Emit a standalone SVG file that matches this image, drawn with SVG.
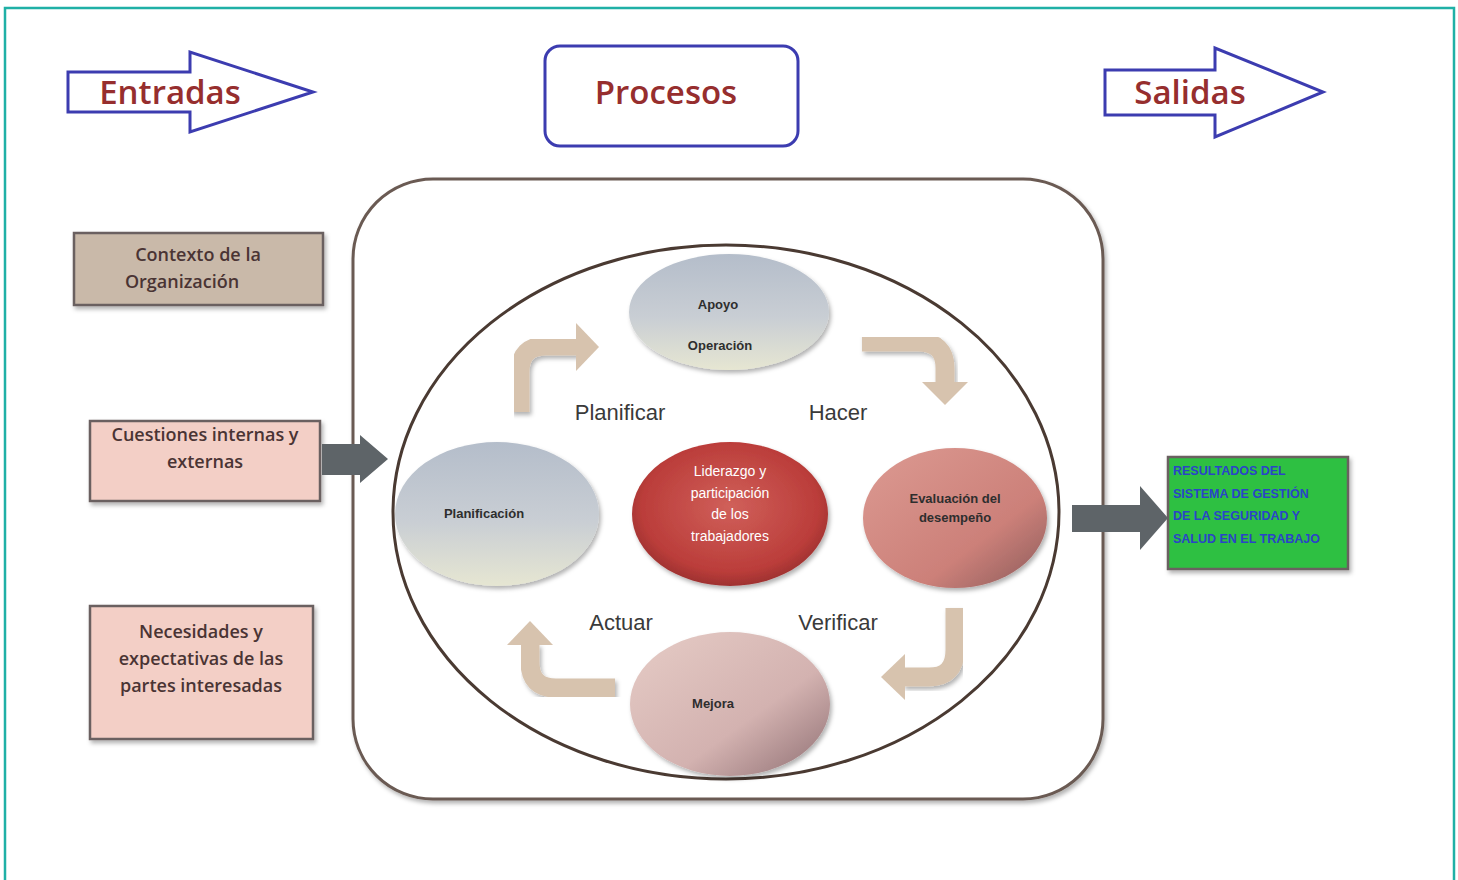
<svg xmlns="http://www.w3.org/2000/svg" width="1458" height="880" viewBox="0 0 1458 880">
  <defs>
    <linearGradient id="gBlue" x1="0" y1="0" x2="0" y2="1">
      <stop offset="0" stop-color="#b4bdca"/>
      <stop offset="0.55" stop-color="#c9ced4"/>
      <stop offset="1" stop-color="#e6e6d2"/>
    </linearGradient>
    <radialGradient id="gRed" cx="0.5" cy="0.45" r="0.6">
      <stop offset="0" stop-color="#d0605a"/>
      <stop offset="0.75" stop-color="#bb3d3a"/>
      <stop offset="1" stop-color="#902c2c"/>
    </radialGradient>
    <linearGradient id="gEval" x1="0" y1="0" x2="1" y2="1">
      <stop offset="0" stop-color="#dc9a92"/>
      <stop offset="0.65" stop-color="#cc8079"/>
      <stop offset="1" stop-color="#8a5a5a"/>
    </linearGradient>
    <linearGradient id="gMejora" x1="0" y1="0" x2="1" y2="1">
      <stop offset="0" stop-color="#e6ccc6"/>
      <stop offset="0.6" stop-color="#d3b2b0"/>
      <stop offset="1" stop-color="#8e6e72"/>
    </linearGradient>
    <filter id="shadow" x="-10%" y="-10%" width="125%" height="130%">
      <feDropShadow dx="2" dy="3" stdDeviation="2" flood-color="#000" flood-opacity="0.3"/>
    </filter>
    <style>
      .head { font-family: "Open Sans", "Liberation Sans", sans-serif; font-weight: 600; font-size: 33px; fill: #962e2e; text-anchor: middle; }
      .hdrShape { fill: #ffffff; stroke: #3c3cb0; stroke-width: 3; }
      .box { stroke: #6a6060; stroke-width: 2.5; filter: url(#shadow); }
      .boxTxt { font-family: "Open Sans", "Liberation Sans", sans-serif; font-size: 18px; font-weight: 600; fill: #4a3434; text-anchor: middle; }
      .cyc { font-family: "Liberation Sans", "DejaVu Sans", sans-serif; font-size: 22px; fill: #3a3a3a; text-anchor: middle; }
      .node { font-family: "Liberation Sans", "DejaVu Sans", sans-serif; font-size: 13px; font-weight: bold; fill: #2e2e2e; text-anchor: middle; }
      .nodeW { font-family: "Liberation Sans", "DejaVu Sans", sans-serif; font-size: 14px; fill: #ffffff; text-anchor: middle; }
      .curve { fill: none; stroke: #d7c3ae; stroke-width: 19; }
      .curveHead { fill: #d7c3ae; }
      .grayArrow { fill: #5e6468; }
      .out { font-family: "Liberation Sans", "DejaVu Sans", sans-serif; font-size: 12.5px; font-weight: bold; fill: #2a44c8; }
    </style>
  </defs>

  <rect x="0" y="0" width="1458" height="880" fill="#ffffff"/>
  <!-- outer frame -->
  <rect x="5" y="8" width="1449" height="890" fill="none" stroke="#1fb0a6" stroke-width="2.5"/>

  <!-- headers -->
  <g id="entradas">
    <polygon class="hdrShape" points="68,72 190,72 190,52 313,92 190,132 190,112 68,112"/>
    <text class="head" x="170" y="104">Entradas</text>
  </g>
  <g id="procesos">
    <rect class="hdrShape" x="545" y="46" width="253" height="100" rx="15"/>
    <text class="head" x="666" y="104">Procesos</text>
  </g>
  <g id="salidas">
    <polygon class="hdrShape" points="1105,70 1215,70 1215,48 1323,92 1215,137 1215,115 1105,115"/>
    <text class="head" x="1190" y="104">Salidas</text>
  </g>

  <!-- process container -->
  <g id="contenedor">
    <rect x="353" y="179" width="750" height="620" rx="80" fill="#ffffff" stroke="#6a5a52" stroke-width="3" filter="url(#shadow)"/>
    <ellipse cx="726" cy="512" rx="333" ry="267" fill="#ffffff" stroke="#4a3a32" stroke-width="3"/>
  </g>

  <!-- inputs -->
  <g id="contexto">
    <rect class="box" x="74" y="233" width="249" height="72" fill="#c9b9a9"/>
    <text class="boxTxt" x="198" y="261">Contexto de la</text>
    <text class="boxTxt" x="182" y="288">Organización</text>
  </g>
  <g id="cuestiones">
    <rect class="box" x="90" y="421" width="230" height="80" fill="#f3cfc6"/>
    <text class="boxTxt" x="205" y="441">Cuestiones internas y</text>
    <text class="boxTxt" x="205" y="468">externas</text>
  </g>
  <g id="necesidades">
    <rect class="box" x="90" y="606" width="223" height="133" fill="#f3cfc6"/>
    <text class="boxTxt" x="201" y="638">Necesidades y</text>
    <text class="boxTxt" x="201" y="665">expectativas de las</text>
    <text class="boxTxt" x="201" y="692">partes interesadas</text>
  </g>

  <!-- output -->
  <g id="resultados">
    <rect class="box" x="1168" y="457" width="180" height="112" fill="#2fc043"/>
    <text class="out" x="1173" y="475">RESULTADOS DEL</text>
    <text class="out" x="1173" y="498">SISTEMA DE GESTIÓN</text>
    <text class="out" x="1173" y="520">DE LA SEGURIDAD Y</text>
    <text class="out" x="1173" y="543">SALUD EN EL TRABAJO</text>
  </g>

  <!-- PHVA nodes -->
  <g id="apoyo">
    <ellipse cx="729" cy="312" rx="100" ry="58" fill="url(#gBlue)" filter="url(#shadow)"/>
    <text class="node" x="718" y="309">Apoyo</text>
    <text class="node" x="720" y="350">Operación</text>
  </g>
  <g id="planificacion">
    <ellipse cx="497" cy="514" rx="102" ry="72" fill="url(#gBlue)" filter="url(#shadow)"/>
    <text class="node" x="484" y="518">Planificación</text>
  </g>
  <g id="liderazgo">
    <ellipse cx="730" cy="514" rx="98" ry="72" fill="url(#gRed)" filter="url(#shadow)"/>
    <text class="nodeW" x="730" y="476">Liderazgo y</text>
    <text class="nodeW" x="730" y="498">participación</text>
    <text class="nodeW" x="730" y="519">de los</text>
    <text class="nodeW" x="730" y="541">trabajadores</text>
  </g>
  <g id="evaluacion">
    <ellipse cx="955" cy="518" rx="92" ry="70" fill="url(#gEval)" filter="url(#shadow)"/>
    <text class="node" x="955" y="503" fill="#4a2424">Evaluación del</text>
    <text class="node" x="955" y="522" fill="#4a2424">desempeño</text>
  </g>
  <g id="mejora">
    <ellipse cx="730" cy="704" rx="100" ry="72" fill="url(#gMejora)" filter="url(#shadow)"/>
    <text class="node" x="713" y="708" font-size="12">Mejora</text>
  </g>

  <!-- cycle labels -->
  <g id="etiquetas">
    <text class="cyc" x="620" y="420">Planificar</text>
    <text class="cyc" x="838" y="420">Hacer</text>
    <text class="cyc" x="621" y="630">Actuar</text>
    <text class="cyc" x="838" y="630">Verificar</text>
  </g>

  <!-- connectors -->
  <g id="conectores">
    <!-- cycle arrows -->
    <path class="curve" d="M520,412 L520,372 Q520,346 546,346 L578,346" filter="url(#shadow)"/>
    <polygon class="curveHead" points="576,323 599,347 576,371"/>
    <path class="curve" d="M862,342 L918,342 Q945,342 945,368 L945,384" filter="url(#shadow)"/>
    <polygon class="curveHead" points="922,382 968,382 945,405"/>
    <path class="curve" d="M955,608 L955,650 Q955,677 929,677 L903,677" filter="url(#shadow)"/>
    <polygon class="curveHead" points="905,654 905,700 881,677"/>
    <path class="curve" d="M615,688 L556,688 Q530,688 530,662 L530,644" filter="url(#shadow)"/>
    <polygon class="curveHead" points="507,645 553,645 530,621"/>
    <!-- input / output arrows -->
    <polygon class="grayArrow" points="322,444 360,444 360,435 388,459 360,483 360,475 322,475"/>
    <polygon class="grayArrow" points="1072,505 1140,505 1140,486 1168,518 1140,550 1140,532 1072,532"/>
  </g>
</svg>
